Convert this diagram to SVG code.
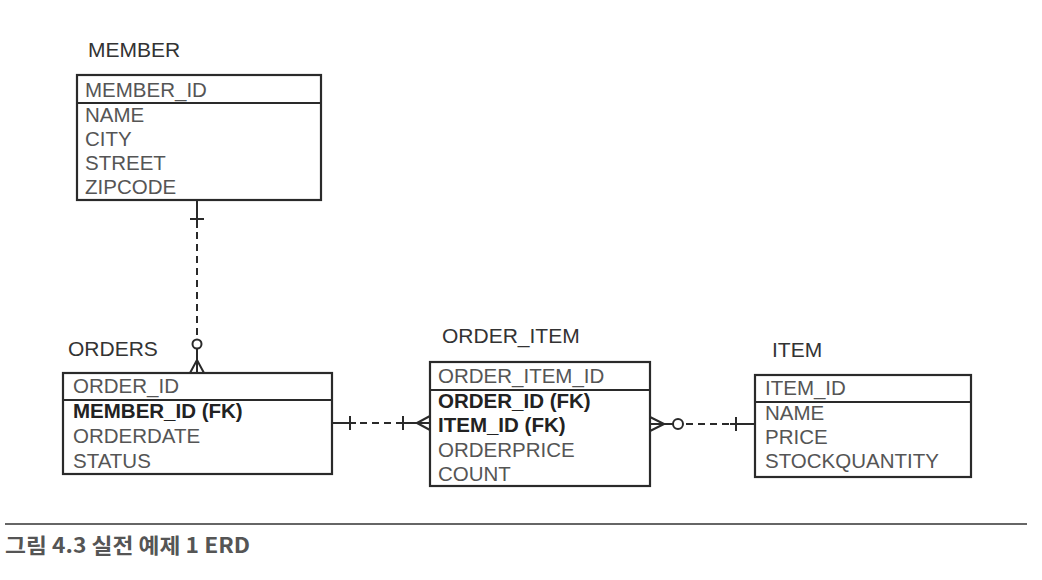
<svg xmlns="http://www.w3.org/2000/svg" width="1042" height="580" viewBox="0 0 1042 580">
<style>
.box{fill:#fff;stroke:#2a2a2a;stroke-width:2.2}
.div{stroke:#2a2a2a;stroke-width:2}
.title{font-family:"Liberation Sans",Arial,sans-serif;font-size:21px;fill:#333}
.f{font-family:"Liberation Sans",Arial,sans-serif;font-size:20.5px;fill:#555}
.fk{font-family:"Liberation Sans",Arial,sans-serif;font-size:20.5px;fill:#222;font-weight:bold}
.ln{stroke:#2a2a2a;stroke-width:2;fill:none}
.dash{stroke:#2a2a2a;stroke-width:2;fill:none;stroke-dasharray:7 5}
.cap{font-family:"Noto Sans CJK KR",sans-serif;font-size:21px;fill:#555;font-weight:bold}
</style>
<rect width="1042" height="580" fill="#fff"/>
<g id="member">
<text class="title" x="88" y="57">MEMBER</text>
<rect class="box" x="77" y="75" width="244" height="125"/>
<line class="div" x1="77" y1="103" x2="321" y2="103"/>
<text class="f" x="85" y="97">MEMBER_ID</text>
<text class="f" x="85" y="122">NAME</text>
<text class="f" x="85" y="146">CITY</text>
<text class="f" x="85" y="170">STREET</text>
<text class="f" x="85" y="194">ZIPCODE</text>
</g>
<g id="orders">
<text class="title" x="68" y="356">ORDERS</text>
<rect class="box" x="63" y="373" width="269" height="101"/>
<line class="div" x1="63" y1="400" x2="332" y2="400"/>
<text class="f" x="73" y="393">ORDER_ID</text>
<text class="fk" x="73" y="418">MEMBER_ID (FK)</text>
<text class="f" x="73" y="443">ORDERDATE</text>
<text class="f" x="73" y="468">STATUS</text>
</g>
<g id="order_item">
<text class="title" x="442" y="343">ORDER_ITEM</text>
<rect class="box" x="430" y="362" width="220" height="124"/>
<line class="div" x1="430" y1="390" x2="650" y2="390"/>
<text class="f" x="438" y="383">ORDER_ITEM_ID</text>
<text class="fk" x="438" y="408">ORDER_ID (FK)</text>
<text class="fk" x="438" y="432">ITEM_ID (FK)</text>
<text class="f" x="438" y="457">ORDERPRICE</text>
<text class="f" x="438" y="481">COUNT</text>
</g>
<g id="item">
<text class="title" x="772" y="357">ITEM</text>
<rect class="box" x="755" y="375" width="216" height="102"/>
<line class="div" x1="755" y1="402" x2="971" y2="402"/>
<text class="f" x="765" y="395">ITEM_ID</text>
<text class="f" x="765" y="420">NAME</text>
<text class="f" x="765" y="444">PRICE</text>
<text class="f" x="765" y="468">STOCKQUANTITY</text>
</g>
<g id="connectors">
<line class="ln" x1="197" y1="200" x2="197" y2="228"/>
<line class="ln" x1="190" y1="219" x2="204" y2="219"/>
<line class="dash" x1="197" y1="232" x2="197" y2="338"/>
<circle class="ln" cx="197" cy="344" r="4.5"/>
<line class="ln" x1="197" y1="349" x2="197" y2="373"/>
<path class="ln" d="M197 360 L190 373 M197 360 L204 373"/>
<line class="ln" x1="332" y1="423" x2="356" y2="423"/>
<line class="ln" x1="350" y1="416" x2="350" y2="430"/>
<line class="dash" x1="360" y1="423" x2="398" y2="423"/>
<line class="ln" x1="398" y1="423" x2="430" y2="423"/>
<line class="ln" x1="403" y1="416" x2="403" y2="430"/>
<path class="ln" d="M417 423 L430 416 M417 423 L430 430"/>
<line class="ln" x1="650" y1="424" x2="673" y2="424"/>
<path class="ln" d="M664 424 L650 417 M664 424 L650 431"/>
<circle class="ln" cx="678" cy="424" r="5"/>
<line class="dash" x1="686" y1="424" x2="730" y2="424"/>
<line class="ln" x1="730" y1="424" x2="755" y2="424"/>
<line class="ln" x1="736" y1="417" x2="736" y2="431"/>
</g>
<line x1="5" y1="524" x2="1027" y2="524" stroke="#666" stroke-width="2"/>
<text class="cap" x="5" y="553" textLength="245" lengthAdjust="spacingAndGlyphs">그림 4.3 실전 예제 1 ERD</text>
</svg>
